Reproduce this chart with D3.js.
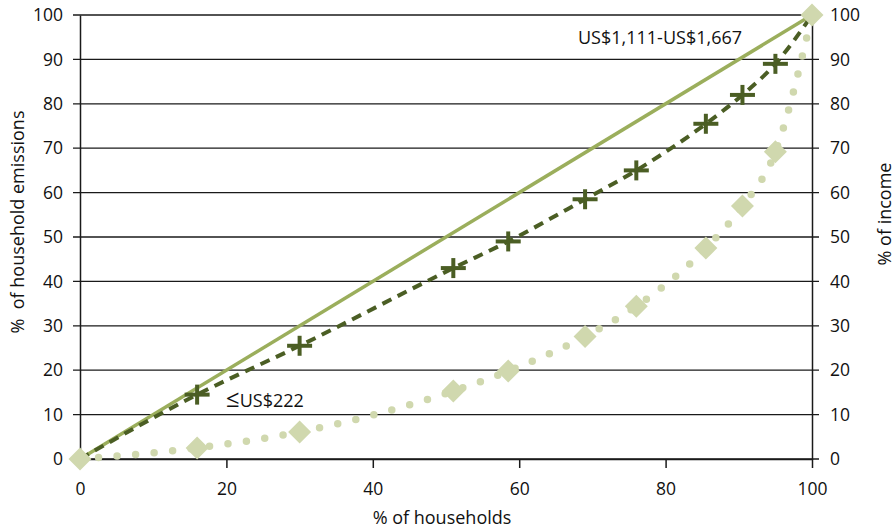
<!DOCTYPE html>
<html><head><meta charset="utf-8">
<script src="https://cdn.jsdelivr.net/npm/d3@7"></script>
<style>
body{margin:0;background:#fff;}
text{font-family:"Open Sans",sans-serif;fill:#111;}
</style></head>
<body><svg id="c" width="896" height="531"></svg>
<script>
// % of households (x) for each point
const households = [0, 16, 30, 51, 58.5, 69, 76, 85.5, 90.5, 95, 100];
// cumulative % of household emissions (dashed, plus markers)
const emissions = [0, 14.5, 25.5, 43, 49, 58.5, 65, 75.5, 82, 89, 100];
// cumulative % of income (dotted, diamond markers)
const income = [0, 2.5, 6.1, 15.3, 19.8, 27.6, 34.4, 47.5, 57, 69.2, 100];
// line of equality
const equality = [0, 100];
const xTicks = [0, 20, 40, 60, 80, 100];
const yTicks = [0, 10, 20, 30, 40, 50, 60, 70, 80, 90, 100];
const labelHigh = "US$1,111-US$1,667";
const labelLow = "US$222";

const svg = d3.select("#c");
const x = d3.scaleLinear().domain([0, 100]).range([80, 812]);
const y = d3.scaleLinear().domain([0, 100]).range([459, 15]);
const fs = "17.5px";

// gridlines
svg.append("g").selectAll("line").data(yTicks).join("line")
  .attr("x1", x(0) - 7).attr("x2", x(100) + 7)
  .attr("y1", d => y(d)).attr("y2", d => y(d))
  .attr("stroke", "#1a1a1a").attr("stroke-width", 1.3);

// left axis
const yl = svg.append("g").attr("transform", `translate(${x(0)},0)`)
  .call(d3.axisLeft(y).tickValues(yTicks).tickSize(0).tickPadding(17));
yl.select(".domain").attr("stroke", "#1a1a1a").attr("stroke-width", 1.5);
yl.selectAll("text").style("font-size", fs).style("font-family", "Open Sans").attr("fill", "#111");
// right axis
const yr = svg.append("g").attr("transform", `translate(${x(100)},0)`)
  .call(d3.axisRight(y).tickValues(yTicks).tickSize(0).tickPadding(18));
yr.select(".domain").attr("stroke", "#1a1a1a").attr("stroke-width", 1.5);
yr.selectAll("text").style("font-size", fs).style("font-family", "Open Sans").attr("fill", "#111");
// bottom axis
const xa = svg.append("g").attr("transform", `translate(0,${y(0)})`)
  .call(d3.axisBottom(x).tickValues(xTicks).tickSize(9).tickPadding(15).tickSizeOuter(0));
xa.select(".domain").attr("stroke", "#1a1a1a").attr("stroke-width", 1.5);
xa.selectAll(".tick line").attr("stroke", "#1a1a1a").attr("stroke-width", 1.5)
  .attr("display", d => d === 0 ? "none" : null);
xa.selectAll("text").style("font-size", fs).style("font-family", "Open Sans").attr("fill", "#111");

// axis titles
svg.append("text").attr("transform", "translate(24,222) rotate(-90)")
  .attr("text-anchor", "middle").style("font-size", "18px").style("white-space", "pre")
  .text("%  of household emissions");
svg.append("text").attr("transform", "translate(891,214) rotate(-90)")
  .attr("text-anchor", "middle").style("font-size", "18px").text("% of income");
svg.append("text").attr("x", 442).attr("y", 524)
  .attr("text-anchor", "middle").style("font-size", "18px").text("% of households");

// equality line
svg.append("line").attr("x1", x(equality[0])).attr("y1", y(equality[0]))
  .attr("x2", x(equality[1])).attr("y2", y(equality[1]))
  .attr("stroke", "#9bae5c").attr("stroke-width", 3.5);

const curve = d3.curveMonotoneX;
const lineE = d3.line().x((d, i) => x(households[i])).y(d => y(d)).curve(curve);

// income dotted line
svg.append("path").attr("d", lineE(income)).attr("fill", "none")
  .attr("stroke", "#d0d8ae").attr("stroke-width", 7.5)
  .attr("stroke-linecap", "round").attr("stroke-dasharray", "0 18.6");

// emissions dashed
svg.append("path").attr("d", lineE(emissions)).attr("fill", "none")
  .attr("stroke", "#4b5e24").attr("stroke-width", 4)
  .attr("stroke-dasharray", "10 7");

// diamonds
svg.append("g").selectAll("path").data(income).join("path")
  .attr("transform", (d, i) => `translate(${x(households[i])},${y(d)})`)
  .attr("d", "M0,-11.5L11.5,0L0,11.5L-11.5,0Z")
  .attr("fill", "#d0d8ae");

// plus markers
const plusG = svg.append("g").selectAll("g").data(emissions.slice(1, -1)).join("g")
  .attr("transform", (d, i) => `translate(${x(households[i + 1])},${y(d)})`);
plusG.append("line").attr("x1", -12.5).attr("x2", 12.5).attr("y1", 0).attr("y2", 0)
  .attr("stroke", "#4b5e24").attr("stroke-width", 4);
plusG.append("line").attr("x1", 0).attr("x2", 0).attr("y1", -10).attr("y2", 10)
  .attr("stroke", "#4b5e24").attr("stroke-width", 4);

// annotations
svg.append("text").attr("x", 578).attr("y", 44).style("font-size", "18px").text(labelHigh);
const low = svg.append("text").attr("x", 226).attr("y", 407).style("font-size", "18px");
low.append("tspan").style("font-size", "24px").text("\u2264");
low.append("tspan").text(labelLow);
</script></body></html>
